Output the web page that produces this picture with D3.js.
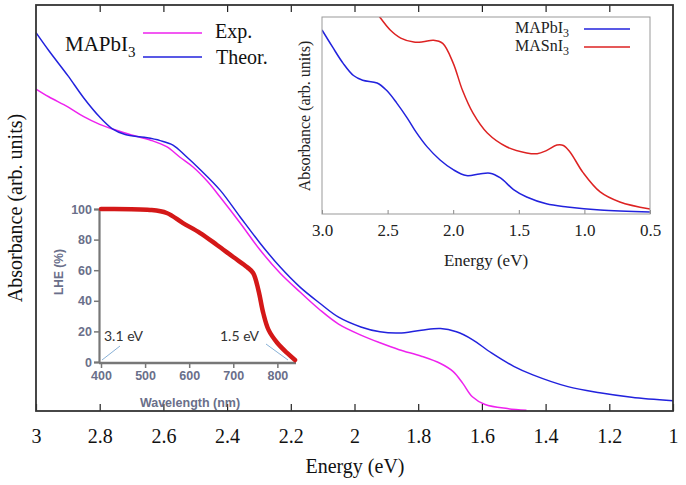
<!DOCTYPE html>
<html><head><meta charset="utf-8">
<script src="https://cdn.jsdelivr.net/npm/d3@7"></script>
<style>body{margin:0;background:#fff}svg{display:block}</style>
</head><body>
<svg id="c" width="686" height="485"></svg>
<script>
// ---- main chart data (Energy eV, absorbance arb. units) ----
const mainTicks = [3, 2.8, 2.6, 2.4, 2.2, 2, 1.8, 1.6, 1.4, 1.2, 1];
const theorE = [3.0,2.96,2.90,2.85,2.80,2.76,2.72,2.66,2.61,2.57,2.53,2.485,2.422,2.359,2.297,2.234,2.171,2.11,2.05,1.98,1.92,1.86,1.79,1.73,1.68,1.63,1.57,1.50,1.44,1.33,1.23,1.13,1.0];
const theorA = [0.932,0.888,0.826,0.771,0.724,0.695,0.681,0.674,0.666,0.655,0.628,0.595,0.544,0.478,0.414,0.355,0.305,0.266,0.231,0.207,0.195,0.192,0.199,0.203,0.195,0.176,0.143,0.110,0.089,0.060,0.045,0.034,0.025];
const expE = [3.0,2.96,2.90,2.85,2.80,2.75,2.70,2.64,2.59,2.548,2.507,2.46,2.422,2.359,2.297,2.234,2.171,2.11,2.05,1.98,1.92,1.86,1.79,1.73,1.69,1.66,1.63,1.59,1.52,1.46];
const expA = [0.793,0.774,0.749,0.725,0.706,0.692,0.680,0.667,0.651,0.625,0.601,0.564,0.527,0.463,0.397,0.340,0.293,0.250,0.214,0.187,0.168,0.151,0.135,0.117,0.097,0.068,0.035,0.016,0.006,0.002];

// ---- top-right inset data ----
const insetTicks = [3.0, 2.5, 2.0, 1.5, 1.0, 0.5];
const pbE = [3.0,2.92,2.84,2.76,2.69,2.58,2.51,2.43,2.35,2.28,2.20,2.10,2.0,1.90,1.80,1.72,1.64,1.54,1.44,1.29,1.13,0.88,0.5];
const pbA = [0.934,0.848,0.766,0.703,0.679,0.665,0.629,0.563,0.487,0.413,0.342,0.274,0.225,0.195,0.203,0.207,0.183,0.124,0.086,0.052,0.036,0.020,0.010];
const snE = [2.62,2.56,2.48,2.40,2.30,2.23,2.15,2.08,2.00,1.93,1.85,1.74,1.59,1.44,1.36,1.29,1.21,1.16,1.11,1.01,0.88,0.73,0.5];
const snA = [1.06,1.0,0.934,0.893,0.873,0.874,0.882,0.866,0.766,0.629,0.513,0.411,0.340,0.310,0.306,0.322,0.350,0.348,0.315,0.210,0.112,0.061,0.025];

// ---- LHE inset data ----
const lheTicksX = [400, 500, 600, 700, 800];
const lheTicksY = [0, 20, 40, 60, 80, 100];
const lheW = [400,511,549,586,625,663,700,731,745,757,768,780,800,822,840];
const lheV = [100,99.4,97.4,90.8,84.3,76.5,68.6,62.1,58.2,47,32,21,12.4,5.9,1.3];

const svg = d3.select("#c");
const serif = "'Liberation Serif','Times New Roman',serif";
const line = d3.line().curve(d3.curveCatmullRom.alpha(0.5));

// ===== main chart =====
const x = d3.scaleLinear().domain([3, 1]).range([36, 673]);
const y = d3.scaleLinear().domain([0, 1]).range([411, 5]);

const main = svg.append("g");
main.append("path").attr("d", line(expE.map((e,i)=>[x(e), y(expA[i])])))
  .attr("fill","none").attr("stroke","#ee22ee").attr("stroke-width",1.5);
main.append("path").attr("d", line(theorE.map((e,i)=>[x(e), y(theorA[i])])))
  .attr("fill","none").attr("stroke","#2222dd").attr("stroke-width",1.5);

// ticks (inward, top and bottom)
main.append("g").attr("transform","translate(0,411)")
  .call(d3.axisBottom(x).tickValues(mainTicks).tickSize(-7).tickPadding(18).tickFormat(d3.format("")))
  .call(g=>{g.select(".domain").remove();
    g.selectAll("line").attr("stroke","#222").attr("stroke-width",1.2);
    g.selectAll("text").attr("font-family",serif).attr("font-size",20).attr("fill","#111");});
main.append("g").attr("transform","translate(0,5)")
  .call(d3.axisTop(x).tickValues(mainTicks.slice(1,-1)).tickSize(-7).tickFormat(""))
  .call(g=>{g.select(".domain").remove(); g.selectAll("line").attr("stroke","#222").attr("stroke-width",1.2);});
main.append("rect").attr("x",36).attr("y",5).attr("width",637).attr("height",406)
  .attr("fill","none").attr("stroke","#333").attr("stroke-width",1.8);

main.append("text").attr("x",355).attr("y",473).attr("text-anchor","middle")
  .attr("font-family",serif).attr("font-size",20).attr("fill","#111").text("Energy (eV)");
main.append("text").attr("transform","translate(22,208) rotate(-90)").attr("text-anchor","middle")
  .attr("font-family",serif).attr("font-size",20).attr("fill","#111").text("Absorbance (arb. units)");

// legend
const lg = main.append("g").attr("font-family",serif).attr("fill","#111");
const mp = lg.append("text").attr("x",65).attr("y",51).attr("font-size",21);
mp.append("tspan").text("MAPbI");
mp.append("tspan").attr("dy",6).attr("font-size",15).text("3");
lg.append("line").attr("x1",143).attr("x2",202).attr("y1",33).attr("y2",33).attr("stroke","#ee22ee").attr("stroke-width",1.5);
lg.append("line").attr("x1",143).attr("x2",202).attr("y1",57).attr("y2",57).attr("stroke","#2222dd").attr("stroke-width",1.5);
lg.append("text").attr("x",215).attr("y",38).attr("font-size",20).text("Exp.");
lg.append("text").attr("x",216).attr("y",64).attr("font-size",20).text("Theor.");

// ===== top-right inset =====
const ix = d3.scaleLinear().domain([3.0, 0.5]).range([322, 650]);
const iy = d3.scaleLinear().domain([0, 1]).range([214, 17]);
const ins = svg.append("g");
ins.append("clipPath").attr("id","iclip").append("rect").attr("x",322).attr("y",17).attr("width",328).attr("height",197);
const ilines = ins.append("g").attr("clip-path","url(#iclip)");
ilines.append("path").attr("d", line(pbE.map((e,i)=>[ix(e), iy(pbA[i])])))
  .attr("fill","none").attr("stroke","#2222dd").attr("stroke-width",1.5);
ilines.append("path").attr("d", line(snE.map((e,i)=>[ix(e), iy(snA[i])])))
  .attr("fill","none").attr("stroke","#dd2222").attr("stroke-width",1.5);
ins.append("g").attr("transform","translate(0,214)")
  .call(d3.axisBottom(ix).tickValues(insetTicks).tickSize(-4).tickPadding(10).tickFormat(d3.format(".1f")))
  .call(g=>{g.select(".domain").remove();
    g.selectAll("line").attr("stroke","#888");
    g.selectAll("text").attr("font-family",serif).attr("font-size",17).attr("fill","#222");});
ins.append("rect").attr("x",322).attr("y",17).attr("width",328).attr("height",197)
  .attr("fill","none").attr("stroke","#999").attr("stroke-width",1);
ins.append("text").attr("x",486).attr("y",266).attr("text-anchor","middle")
  .attr("font-family",serif).attr("font-size",17).attr("fill","#222").text("Energy (eV)");
ins.append("text").attr("transform","translate(310,116) rotate(-90)").attr("text-anchor","middle")
  .attr("font-family",serif).attr("font-size",16).attr("fill","#222").text("Absorbance (arb. units)");
const il = ins.append("g").attr("font-family",serif).attr("fill","#222");
const t1 = il.append("text").attr("x",515).attr("y",33).attr("font-size",16);
t1.append("tspan").text("MAPbI"); t1.append("tspan").attr("dy",4).attr("font-size",12).text("3");
const t2 = il.append("text").attr("x",515).attr("y",51).attr("font-size",16);
t2.append("tspan").text("MASnI"); t2.append("tspan").attr("dy",4).attr("font-size",12).text("3");
il.append("line").attr("x1",584).attr("x2",630).attr("y1",29).attr("y2",29).attr("stroke","#2222dd").attr("stroke-width",1.5);
il.append("line").attr("x1",584).attr("x2",630).attr("y1",47).attr("y2",47).attr("stroke","#dd2222").attr("stroke-width",1.5);

// ===== LHE inset =====
const lx = d3.scaleLinear().domain([400, 840]).range([101, 295]);
const ly = d3.scaleLinear().domain([0, 100]).range([362, 209]);
const lhe = svg.append("g");
const sans = "'Liberation Sans',Arial,sans-serif";
lhe.append("g").attr("transform","translate(99,0)")
  .call(d3.axisLeft(ly).tickValues(lheTicksY).tickSize(5).tickPadding(2))
  .call(g=>{g.select(".domain").attr("stroke","#777").attr("stroke-width",2.2);
    g.selectAll("line").attr("stroke","#777").attr("stroke-width",1.5);
    g.selectAll("text").attr("font-family",sans).attr("font-weight","bold").attr("font-size",12.5).attr("fill","#6a6f8a");});
lhe.append("g").attr("transform","translate(0,363)")
  .call(d3.axisBottom(lx).tickValues(lheTicksX).tickSize(5).tickPadding(3))
  .call(g=>{g.select(".domain").attr("stroke","#777").attr("stroke-width",2.5).attr("d","M99,0H296");
    g.selectAll("line").attr("stroke","#777").attr("stroke-width",1.5);
    g.selectAll("text").attr("font-family",sans).attr("font-weight","bold").attr("font-size",12.5).attr("fill","#6a6f8a");});
lhe.append("text").attr("x",190).attr("y",407).attr("text-anchor","middle")
  .attr("font-family",sans).attr("font-weight","bold").attr("font-size",12.5).attr("fill","#6a6f8a").text("Wavelength (nm)");
lhe.append("text").attr("transform","translate(63,272) rotate(-90)").attr("text-anchor","middle")
  .attr("font-family",sans).attr("font-weight","bold").attr("font-size",12).attr("fill","#6a6f8a").text("LHE (%)");
lhe.append("path").attr("d", line(lheW.map((w,i)=>[lx(w), ly(lheV[i])])))
  .attr("fill","none").attr("stroke","#d41818").attr("stroke-width",4.5).attr("stroke-linecap","round");
const ann = "Lato,'Open Sans',sans-serif";
lhe.append("text").attr("x",104).attr("y",341).attr("font-family",ann).attr("font-size",14).attr("fill","#333").text("3.1 eV");
lhe.append("text").attr("x",220).attr("y",341).attr("font-family",ann).attr("font-size",14).attr("fill","#333").text("1.5 eV");
lhe.append("line").attr("x1",120).attr("y1",346).attr("x2",102).attr("y2",360).attr("stroke","#6a9ccc").attr("stroke-width",0.8);
lhe.append("line").attr("x1",266).attr("y1",344).attr("x2",288).attr("y2",360).attr("stroke","#6a9ccc").attr("stroke-width",0.8);
</script>
</body></html>
